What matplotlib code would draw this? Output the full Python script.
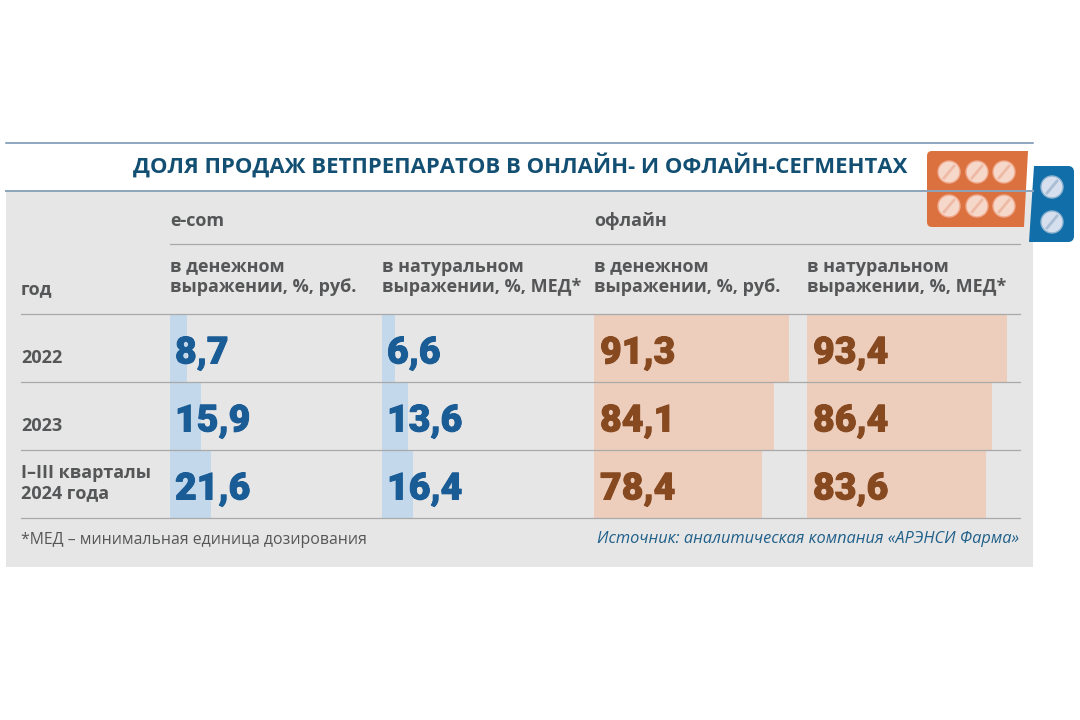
"""Share of veterinary drug sales, online vs offline: table with bars behind the values."""

import matplotlib

matplotlib.use("Agg")
import matplotlib.pyplot as plt
import matplotlib.patheffects as pe
from matplotlib.patches import Circle, FancyBboxPatch, Polygon, Rectangle

W, H = 1080, 720

TITLE = "ДОЛЯ ПРОДАЖ ВЕТПРЕПАРАТОВ В ОНЛАЙН- И ОФЛАЙН-СЕГМЕНТАХ"
periods = ["2022", "2023", "I–III кварталы\n2024 года"]
groups = ["e-com", "офлайн"]
column_heads = [
    "в денежном\nвыражении, %, руб.",
    "в натуральном\nвыражении, %, МЕД*",
    "в денежном\nвыражении, %, руб.",
    "в натуральном\nвыражении, %, МЕД*",
]
ecom_money = [8.7, 15.9, 21.6]
ecom_units = [6.6, 13.6, 16.4]
offline_money = [91.3, 84.1, 78.4]
offline_units = [93.4, 86.4, 83.6]
footnote = "*МЕД – минимальная единица дозирования"
source = "Источник: аналитическая компания «АРЭНСИ Фарма»"

GREY_TEXT = "#555657"
BLUE = "#1a5c96"
BROWN = "#87491f"
BAR_BLUE = "#c3d8ea"
BAR_ORANGE = "#edcdbc"
PANEL = "#e6e6e6"
RULE = "#a9a9a9"

plt.rcParams["font.family"] = ["Open Sans", "DejaVu Sans"]

fig = plt.figure(figsize=(W / 100, H / 100), dpi=100, facecolor="white")


def px_axes(x0, y0, x1, y1, zorder):
    # axes placed by pixel box, y measured from the top of the image
    ax = fig.add_axes([x0 / W, 1 - y1 / H, (x1 - x0) / W, (y1 - y0) / H], zorder=zorder)
    ax.axis("off")
    return ax


# background panel
bg = px_axes(0, 0, W, H, 0)
bg.set_xlim(0, W)
bg.set_ylim(H, 0)
bg.add_patch(Rectangle((6, 192), 1027, 375, color=PANEL, lw=0))

# bars, one axes per column
columns = [
    (170, ecom_money, BAR_BLUE, BLUE, 1.92),
    (382, ecom_units, BAR_BLUE, BLUE, 1.92),
    (594, offline_money, BAR_ORANGE, BROWN, 2.14),
    (807, offline_units, BAR_ORANGE, BROWN, 2.14),
]
for x0, values, bar_color, text_color, px_per_unit in columns:
    ax = px_axes(x0, 314, x0 + 210, 518, 1)
    ax.set_xlim(0, 210 / px_per_unit)
    ax.set_ylim(len(values) - 0.5, -0.5)
    ax.barh(range(len(values)), values, height=1.0, color=bar_color, lw=0)

# rules, text and the blister pack go on top
top = px_axes(0, 0, W, H, 2)
top.set_xlim(0, W)
top.set_ylim(H, 0)

top.plot([6, 1033], [143, 143], color="#6f8fae", lw=1.1)
top.plot([6, 1033], [191, 191], color="#8ba4bb", lw=1.4)
top.plot([170, 1020], [244, 244], color=RULE, lw=0.9)
for y in [314, 382, 450, 518]:
    top.plot([21, 1020], [y, y], color=RULE, lw=0.9)

top.text(133, 165, TITLE, fontsize=15.9, fontweight="bold", color="#124f72", va="center", ha="left")

LABEL = dict(fontsize=13, fontweight="bold", color=GREY_TEXT, va="center")
for x, label in zip([170, 594], groups):
    top.text(x, 221, label, **LABEL)
top.text(21, 289, "год", **LABEL)

for x, label in zip([170, 382, 594, 807], column_heads):
    top.text(x, 277, label, linespacing=1.2, **LABEL)

for y, label in zip([358, 426], periods[:2]):
    top.text(21, y, label, **LABEL)
top.text(21, 483, periods[2], linespacing=1.12, **LABEL)

for (x0, values, _, text_color, _), tx in zip(columns, [175, 387, 600, 813]):
    for y, v in zip([353, 421, 489], values):
        label = top.text(tx, y, f"{v:.1f}".replace(".", ","), fontsize=27, fontfamily="Roboto",
                         fontweight=900, color=text_color, va="center")
        label.set_path_effects([pe.withStroke(linewidth=0.7, foreground=text_color)])

top.text(21, 540, footnote, fontsize=11.45, color=GREY_TEXT, va="center")
top.text(1019, 539, source, fontsize=11.75, style="italic", color="#20608a", va="center", ha="right")

# blister pack decoration
top.add_patch(FancyBboxPatch((1036, 166), 38, 76, boxstyle="round,pad=0,rounding_size=6",
                             color="#116ea8", lw=0))
top.add_patch(Polygon([(1034, 166), (1045, 166), (1045, 242), (1029, 242)], closed=True,
                      color="#116ea8", lw=0))
top.add_patch(FancyBboxPatch((927, 151), 60, 76, boxstyle="round,pad=0,rounding_size=5",
                             color="#dc7140", lw=0))
top.add_patch(Polygon([(950, 151), (1028, 151), (1024, 227), (950, 227)], closed=True,
                      color="#dc7140", lw=0))
for cx in [949, 977, 1004]:
    for cy in [172, 206]:
        top.add_patch(Circle((cx, cy), 11, fc="#f6d8cb", ec="#f0a98c", lw=1))
        top.plot([cx - 5, cx + 5], [cy + 6, cy - 6], color="#eeb9a5", lw=2)
for cy in [187, 222]:
    top.add_patch(Circle((1052, cy), 11, fc="#d5dfee", ec="#8fb4d2", lw=1))
    top.plot([1047, 1057], [cy + 6, cy - 6], color="#a9bdd4", lw=2)

fig.savefig("out.png", dpi=100)
